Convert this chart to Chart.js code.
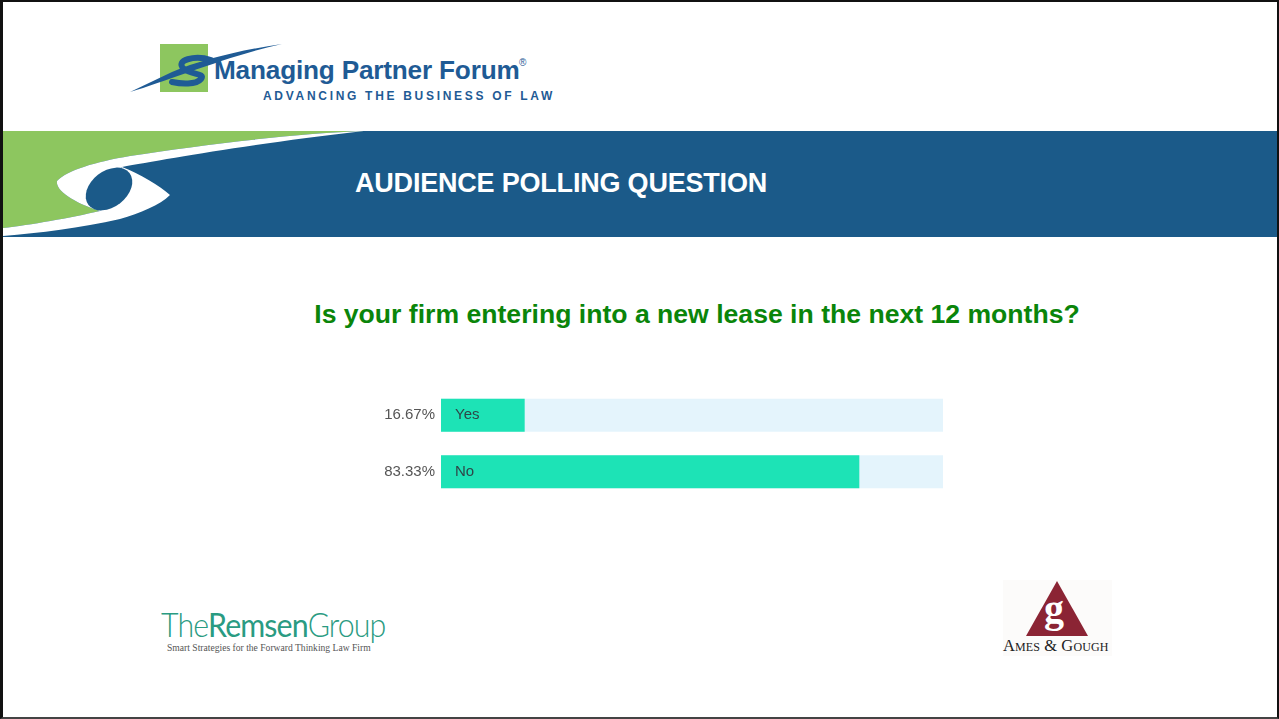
<!DOCTYPE html>
<html>
<head>
<meta charset="utf-8">
<script src="https://cdn.jsdelivr.net/npm/chart.js@4.4.1/dist/chart.umd.min.js"></script>
<style>
  html, body { margin: 0; padding: 0; background: #fff; }
  #page { position: relative; width: 1279px; height: 719px; overflow: hidden; background: #fff; font-family: "Liberation Sans", Arial, sans-serif; }
  #frame { position: absolute; left: 0; top: 0; width: 1279px; height: 719px; box-sizing: border-box;
           border-top: 2px solid #111; border-left: 3px solid #111; border-right: 2px solid #111; border-bottom: 2px solid #444; pointer-events: none; }
  .txt { position: absolute; white-space: nowrap; }
  #bannerTitle { left: 355px; top: 168px; font-size: 27px; font-weight: bold; color: #fff; letter-spacing: -0.2px; }
  #question { left: 0; width: 1394px; text-align: center; top: 299px; font-size: 26.6px; font-weight: bold; color: #0a850a; }
  #mpfName { left: 214px; top: 55px; font-size: 26.2px; font-weight: bold; color: #1f5b95; letter-spacing: -0.2px; }
  #mpfReg { left: 519px; top: 57px; font-size: 10px; color: #1f5b95; }
  #mpfTag { left: 263px; top: 89px; font-size: 12px; font-weight: bold; color: #1f5b95; letter-spacing: 2.7px; }
  #remsen { left: 161px; top: 609px; line-height: 30px; font-family: Lato, "Open Sans", sans-serif; font-size: 33px; color: #2a9b82; letter-spacing: -1px; transform: scaleX(0.92); transform-origin: left top; }
  #remsen .thin { font-weight: 300; }
  #remsen .bold { font-weight: 400; }
  #remsenSub { left: 167px; top: 642px; line-height: 11px; font-family: "Liberation Serif", serif; font-size: 9.6px; color: #555; }
  #ames { left: 1003px; top: 636px; font-family: "Liberation Serif", serif; font-size: 16.5px; color: #222; font-variant: small-caps; letter-spacing: 0.1px; }
  #amesG { left: 1044px; top: 585px; font-family: "Liberation Serif", serif; font-size: 40px; font-weight: bold; color: #fff; }
  #chartBox { position: absolute; left: 370px; top: 372px; width: 573px; height: 143px; }
</style>
</head>
<body>
<div id="page">
  <svg width="1279" height="719" style="position:absolute;left:0;top:0">
    <!-- banner -->
    <rect x="3" y="131" width="1274" height="106" fill="#1b5a89"/>
    <path d="M3,131 H364 C300,133 200,145 130,156 C95,162 68,170 57,181 C55,192 80,205 100,211 C70,218 30,225 3,228 Z" fill="#8dc65f"/>
    <path d="M364,131 C300,133 200,145 130,156 C95,162 68,170 57,181 C55,192 80,205 100,211 L105,185 L122,167 C160,160 250,144 364,131 Z" fill="#fff"/>
    <path d="M3,228 C30,225 70,218 100,211 L110,189 L122,167 C140,174 160,186 170,195 C160,205 140,213 120,219 C80,228 40,233 3,236 Z" fill="#fff"/>
    <ellipse cx="109" cy="189" rx="26" ry="18" transform="rotate(-38 109 189)" fill="#1b5a89"/>
    <!-- managing partner forum logo -->
    <rect x="160" y="44" width="48" height="48" fill="#8dc65f"/>
    <path d="M130,92 C170,80 230,55 282,44 C240,50 200,60 172,72 Z" fill="#1f5b95"/>
    <path d="M211,60 C195,55 174,60 184,69 C191,75 206,73 201,79 C196,85 181,84 172,82" fill="none" stroke="#1f5b95" stroke-width="6" stroke-linecap="round"/>
    <!-- ames & gough logo -->
    <rect x="1003" y="580" width="109" height="76" fill="#fcfbfa"/>
    <path d="M1057,581 L1088,636 L1026,636 Z" fill="#8b2434"/>
  </svg>

  <div class="txt" id="mpfName">Managing Partner Forum</div>
  <div class="txt" id="mpfReg">®</div>
  <div class="txt" id="mpfTag">ADVANCING THE BUSINESS OF LAW</div>
  <div class="txt" id="bannerTitle">AUDIENCE POLLING QUESTION</div>
  <div class="txt" id="question">Is your firm entering into a new lease in the next 12 months?</div>

  <div id="chartBox"><canvas id="chart"></canvas></div>

  <div class="txt" id="remsen"><span class="thin">The</span><span class="bold">Remsen</span><span class="thin">Group</span></div>
  <div class="txt" id="remsenSub">Smart Strategies for the Forward Thinking Law Firm</div>
  <div class="txt" id="amesG">g</div>
  <div class="txt" id="ames">Ames &amp; Gough</div>

  <div id="frame"></div>
</div>

<script>
// poll answers
const categories = ['Yes', 'No'];
const percents = [16.67, 83.33];
const tickLabels = ['16.67%', '83.33%'];
const track = [100, 100];

// writes the answer name inside the start of each bar
const innerLabels = {
    id: 'innerLabels',
    afterDatasetsDraw(chart) {
        const ctx = chart.ctx;
        const meta = chart.getDatasetMeta(0);
        ctx.save();
        ctx.font = '15px "Liberation Sans", Arial, sans-serif';
        ctx.fillStyle = '#2f4548';
        ctx.textBaseline = 'middle';
        meta.data.forEach((bar, i) => {
            ctx.fillText(categories[i], bar.base + 14, bar.y);
        });
        ctx.restore();
    }
};

chartIT();

function chartIT(){
    const ctx = document.getElementById('chart').getContext('2d');
    const myChart = new Chart(ctx, {
        type: 'bar',
        data: {
            labels: categories,
            datasets: [{
                data: percents,
                backgroundColor: '#1de3b6',
                order: 1,
                grouped: false,
                barPercentage: 0.585,
                categoryPercentage: 1
            }, {
                data: track,
                backgroundColor: '#e4f4fc',
                order: 2,
                grouped: false,
                barPercentage: 0.585,
                categoryPercentage: 1
            }]
        },
        options: {
            indexAxis: 'y',
            responsive: true,
            maintainAspectRatio: false,
            animation: false,
            layout: { padding: 0 },
            plugins: {
                legend: { display: false },
                tooltip: { enabled: false }
            },
            scales: {
                x: { display: false, min: 0, max: 100 },
                y: {
                    grid: { display: false, drawTicks: false },
                    border: { display: false },
                    afterFit: function(axis) { axis.width = 71; },
                    ticks: {
                        padding: 6,
                        color: '#555',
                        font: { size: 15, family: '"Liberation Sans", Arial, sans-serif' },
                        callback: function(value, index) {
                            return tickLabels[index];
                        }
                    }
                }
            }
        },
        plugins: [innerLabels]
    });
}
</script>
</body>
</html>
